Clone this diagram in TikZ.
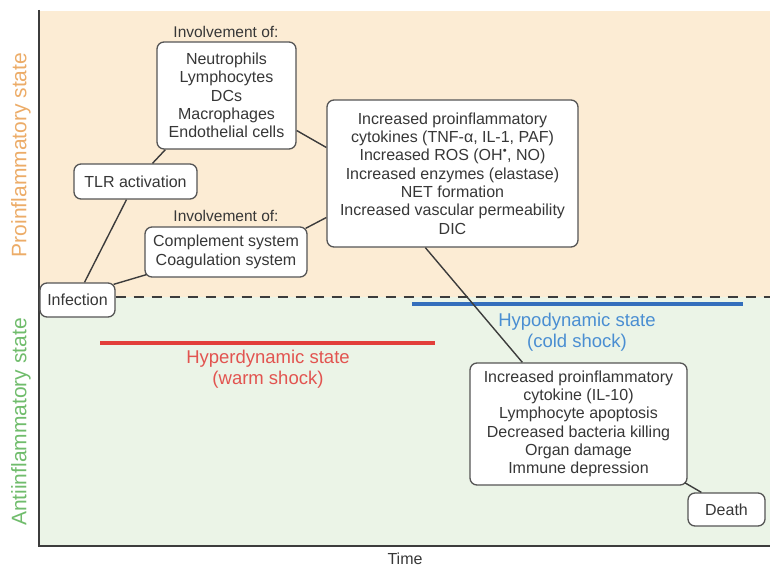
\documentclass[tikz,border=0pt]{standalone}
\usepackage{fontspec}
\setmainfont{Liberation Sans}
\usetikzlibrary{calc}
\definecolor{probg}{RGB}{252,236,212}
\definecolor{antibg}{RGB}{235,244,231}
\definecolor{prolab}{RGB}{236,172,104}
\definecolor{antilab}{RGB}{112,188,108}
\definecolor{hyred}{RGB}{226,62,58}
\definecolor{hyredtxt}{RGB}{226,84,80}
\definecolor{hoblue}{RGB}{52,110,188}
\definecolor{hobluetxt}{RGB}{74,142,210}
\definecolor{boxgray}{RGB}{85,85,85}
\definecolor{linegray}{RGB}{60,60,60}
\definecolor{txtgray}{RGB}{55,55,55}
\begin{document}
\begin{tikzpicture}[x=1pt,y=-1pt,
  box/.style={draw=boxgray, line width=1.3pt, rounded corners=7pt, fill=white,
    inner sep=0pt, align=center, text=txtgray, font=\fontsize{16}{18.3}\selectfont},
  conn/.style={draw=linegray, line width=1.4pt},
  lbl/.style={text=txtgray, font=\fontsize{15.5}{18}\selectfont, inner sep=0pt},
  axlab/.style={rotate=90, font=\fontsize{21}{24}\selectfont, inner sep=0pt},
  shocklab/.style={align=center, font=\fontsize{18.5}{21.5}\selectfont, inner sep=0pt}]
\useasboundingbox (0,0) rectangle (770,569);
% backgrounds
\fill[probg] (39,11) rectangle (770,297);
\fill[antibg] (39,297) rectangle (770,546);
% axes
\draw[linegray, line width=1.8pt] (39,10) -- (39,546) -- (770,546);
\node[text=txtgray, font=\fontsize{16}{18}\selectfont, inner sep=0pt] (time) at (405,559) {Time};
\node[axlab, text=prolab] (prolabel) at (21,155) {Proinflammatory state};
\node[axlab, text=antilab] (antilabel) at (21,422) {Antiinflammatory state};
% shock states
\draw[hyred, line width=4.5pt] (100,343) -- (435,343);
\node[shocklab, text=hyredtxt] (hyper) at (268,369) {Hyperdynamic state\\(warm shock)};
\draw[hoblue, line width=4.5pt] (412,304) -- (743,304);
\node[shocklab, text=hobluetxt] (hypo) at (577,332) {Hypodynamic state\\(cold shock)};
% boxes
\node[box, minimum width=75pt, minimum height=34pt] (inf) at (77.5,300) {Infection};
\node[box, minimum width=123pt, minimum height=35pt] (tlr) at (135.5,181.5) {TLR activation};
\node[box, minimum width=139pt, minimum height=107pt] (cells) at (226.5,95.5)
  {Neutrophils\\Lymphocytes\\DCs\\Macrophages\\Endothelial cells};
\node[lbl] (inv1) at (226,32) {Involvement of:};
\node[box, minimum width=162pt, minimum height=50pt] (comp) at (226,252)
  {Complement system\\Coagulation system};
\node[lbl] (inv2) at (226,216) {Involvement of:};
\node[box, minimum width=251pt, minimum height=147pt] (big) at (452.5,173.5)
  {Increased proinflammatory\\cytokines (TNF-α, IL-1, PAF)\\Increased ROS (OH\textsuperscript{•}, NO)\\Increased enzymes (elastase)\\NET formation\\Increased vascular permeability\\DIC};
\node[box, minimum width=217pt, minimum height=122pt] (bot) at (578.5,424)
  {Increased proinflammatory\\cytokine (IL-10)\\Lymphocyte apoptosis\\Decreased bacteria killing\\Organ damage\\Immune depression};
\node[box, minimum width=77pt, minimum height=33pt] (death) at (726.5,509.5) {Death};
% dashed line
\draw[linegray, line width=2pt, dash pattern=on 10pt off 8pt] (inf.east |- 0,297) -- (770,297);
% connectors
\draw[conn] ($(inf.north)+(7,0)$) -- ($(tlr.south)+(-9,0)$);
\draw[conn] ($(tlr.north)+(17,0)$) -- ($(cells.south west)+(9,0)$);
\draw[conn] ($(inf.north east)+(-2,2)$) -- ($(comp.south west)+(2,-3)$);
\draw[conn] ($(cells.east)+(0,35)$) -- ($(big.west)+(0,-26)$);
\draw[conn] ($(comp.north east)+(-2,2)$) -- ($(big.west)+(0,44)$);
\draw[conn] ($(big.south west)+(99,0)$) -- ($(bot.north west)+(53,0)$);
\draw[conn] ($(bot.south east)+(-3,-3)$) -- ($(death.north west)+(14,0)$);
\end{tikzpicture}
\end{document}
